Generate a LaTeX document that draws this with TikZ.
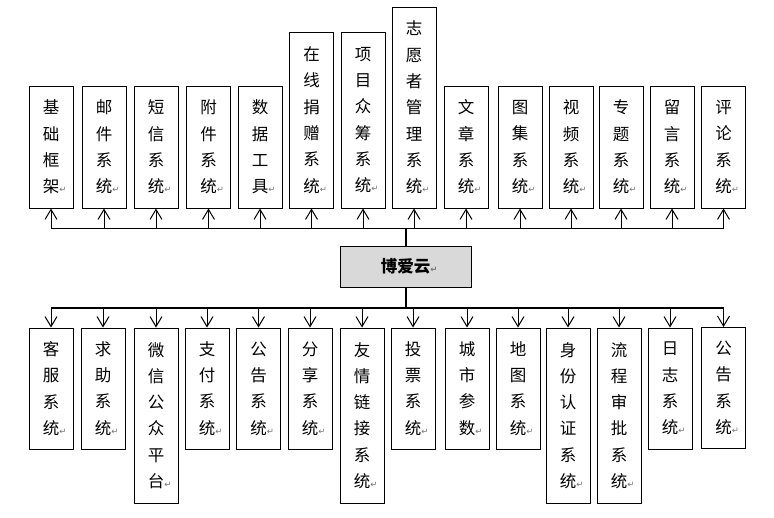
\documentclass[tikz,border=0pt]{standalone}
\usepackage{fontspec}
\newfontfamily\cjk{Noto Sans CJK SC}
\newfontfamily\dvs{DejaVu Sans}
\usetikzlibrary{arrows.meta}
\newcommand{\retmark}{\rlap{\dvs\fontsize{8.5}{8.5}\selectfont\color{black!55}↵}}
\begin{document}
\begin{tikzpicture}[x=1pt,y=1pt,
  box/.style={draw, line width=1pt, minimum width=44pt, inner sep=0pt, align=center,
    font=\cjk\fontsize{16.5}{26.3}\selectfont},
  four/.style={box, minimum height=122pt},
  six/.style={box, minimum height=176pt},
  seven/.style={box, minimum height=201pt},
  bfour/.style={box, minimum height=121pt},
  bsix/.style={box, minimum height=175pt},
  tip/.style={-{Straight Barb[length=10pt,width=12pt,line width=1pt]}, line width=1pt},
  trunk/.style={line width=2pt}]
\useasboundingbox (0,0) rectangle (774,-517);

% top row
\node[four]  (t1)  at (51,-147)    {基\\础\\框\\架\retmark};
\node[four]  (t2)  at (104,-147)   {邮\\件\\系\\统\retmark};
\node[four]  (t3)  at (156,-147)   {短\\信\\系\\统\retmark};
\node[four]  (t4)  at (208.5,-147) {附\\件\\系\\统\retmark};
\node[four]  (t5)  at (260,-147)   {数\\据\\工\\具\retmark};
\node[six]   (t6)  at (311.5,-120) {在\\线\\捐\\赠\\系\\统\retmark};
\node[six]   (t7)  at (363,-120)   {项\\目\\众\\筹\\系\\统\retmark};
\node[seven] (t8)  at (414,-107.5) {志\\愿\\者\\管\\理\\系\\统\retmark};
\node[four]  (t9)  at (466,-147)   {文\\章\\系\\统\retmark};
\node[four]  (t10) at (520,-147)   {图\\集\\系\\统\retmark};
\node[four]  (t11) at (571,-147)   {视\\频\\系\\统\retmark};
\node[four]  (t12) at (621,-147)   {专\\题\\系\\统\retmark};
\node[four]  (t13) at (672,-147)   {留\\言\\系\\统\retmark};
\node[four]  (t14) at (723.5,-147) {评\\论\\系\\统\retmark};

% centre
\node[draw, line width=1pt, fill=black!15, minimum width=131pt, minimum height=41pt, inner sep=0pt,
  font=\cjk\bfseries\fontsize{16.5}{18}\selectfont] (c) at (405.5,-266.5) {博爱云\retmark};

% bottom row
\node[bfour] (b1)  at (51,-388.5)  {客\\服\\系\\统\retmark};
\node[bfour] (b2)  at (103,-388.5) {求\\助\\系\\统\retmark};
\node[bsix]  (b3)  at (156,-415.5) {微\\信\\公\\众\\平\\台\retmark};
\node[bfour] (b4)  at (207,-388.5) {支\\付\\系\\统\retmark};
\node[bfour] (b5)  at (258.5,-388.5) {公\\告\\系\\统\retmark};
\node[bfour] (b6)  at (310,-388.5) {分\\享\\系\\统\retmark};
\node[bsix]  (b7)  at (362,-415.5) {友\\情\\链\\接\\系\\统\retmark};
\node[bfour] (b8)  at (413,-388.5) {投\\票\\系\\统\retmark};
\node[bfour] (b9)  at (467,-388.5) {城\\市\\参\\数\retmark};
\node[bfour] (b10) at (518,-388.5) {地\\图\\系\\统\retmark};
\node[bsix]  (b11) at (568,-415.5) {身\\份\\认\\证\\系\\统\retmark};
\node[bsix]  (b12) at (619,-415.5) {流\\程\\审\\批\\系\\统\retmark};
\node[bfour] (b13) at (670,-388.5) {日\\志\\系\\统\retmark};
\node[bfour] (b14) at (723.5,-388) {公\\告\\系\\统\retmark};

\coordinate (busT) at (405,-228);
\coordinate (busB) at (405,-308);

% trunks
\draw[trunk] (c.north) -- (c.north |- busT);
\draw[trunk] (c.south) -- (c.south |- busB);

% buses
\draw[line width=1pt] (t1.south |- busT) -- (t14.south |- busT);
\draw[line width=1.4pt] (b1.north |- busB) -- (b14.north |- busB);

\foreach \n in {t1,t2,t3,t4,t5,t6,t7,t8,t9,t10,t11,t12,t13,t14}
  \draw[tip] (\n.south |- busT) -- (\n.south);
\foreach \n in {b1,b2,b3,b4,b5,b6,b7,b8,b9,b10,b11,b12,b13,b14}
  \draw[tip] (\n.north |- busB) -- (\n.north);
\end{tikzpicture}
\end{document}
